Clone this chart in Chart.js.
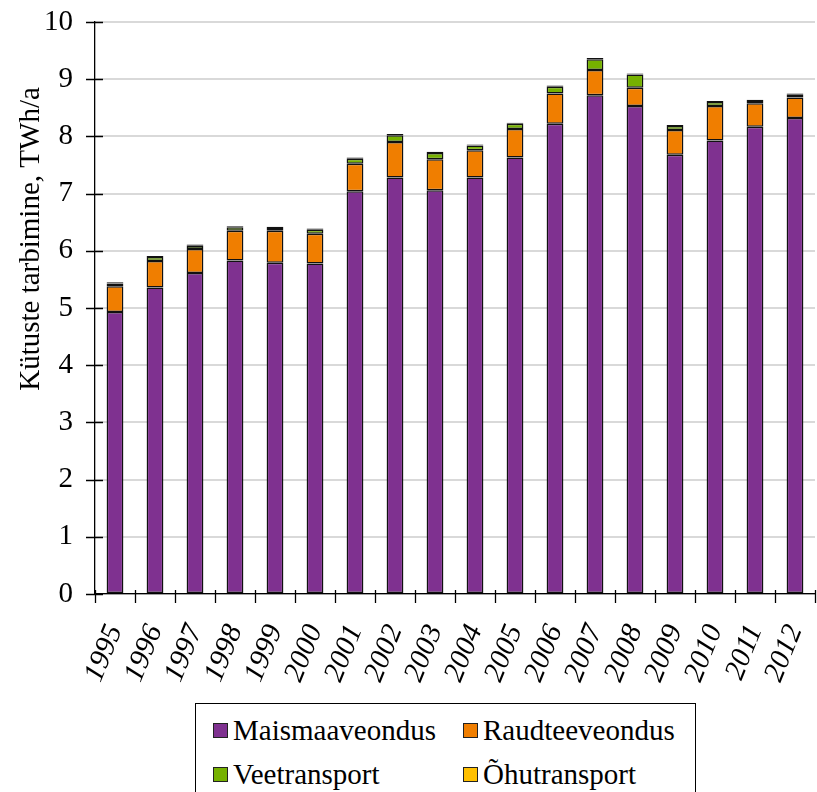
<!DOCTYPE html>
<html>
<head>
<meta charset="utf-8">
<script src="https://cdn.jsdelivr.net/npm/chart.js@4/dist/chart.umd.min.js"></script>
<style>
  html, body { margin: 0; padding: 0; background: #fff; }
  #wrap { position: relative; width: 817px; height: 792px; overflow: hidden; }
  #c { position: absolute; left: 0; top: 0; }
  #legend {
    position: absolute; left: 195px; top: 703px; width: 501px; height: 100px;
    border: 1px solid #000; box-sizing: border-box;
    font-family: "Liberation Serif", "Times New Roman", serif; font-size: 29px; color: #000;
  }
  .item { position: absolute; display: flex; align-items: center; white-space: nowrap; }
  .sw { width: 13px; height: 13px; border: 1px solid #222; margin-right: 5px; }
</style>
</head>
<body>
<div id="wrap">
  <canvas id="c" width="817" height="700"></canvas>
  <div id="legend"></div>
</div>
<script>
// Years on the category axis
const years = ['1995','1996','1997','1998','1999','2000','2001','2002','2003','2004',
               '2005','2006','2007','2008','2009','2010','2011','2012'];

// Fuel consumption by transport mode, TWh/a
const maismaaveondus = [4.93, 5.36, 5.61, 5.83, 5.79, 5.78, 7.04, 7.28, 7.06, 7.28,
                        7.63, 8.22, 8.72, 8.53, 7.68, 7.93, 8.17, 8.32];
const raudteeveondus = [0.45, 0.46, 0.42, 0.52, 0.56, 0.52, 0.48, 0.62, 0.54, 0.48,
                        0.50, 0.53, 0.44, 0.32, 0.43, 0.60, 0.41, 0.36];
const veetransport   = [0.05, 0.07, 0.06, 0.06, 0.05, 0.07, 0.09, 0.12, 0.11, 0.08,
                        0.09, 0.12, 0.19, 0.23, 0.07, 0.07, 0.04, 0.05];
const ohutransport   = [0.02, 0.02, 0.02, 0.02, 0.02, 0.02, 0.02, 0.02, 0.02, 0.02,
                        0.02, 0.02, 0.02, 0.02, 0.02, 0.02, 0.02, 0.02];

// Value axis ticks
const yTicks = [0, 1, 2, 3, 4, 5, 6, 7, 8, 9, 10];

const seriesNames = ['Maismaaveondus', 'Raudteeveondus', 'Veetransport', 'Õhutransport'];
const yTitle = 'Kütuste tarbimine, TWh/a';

const SERIF = '"Liberation Serif", "Times New Roman", serif';
const colors = ['#7F3190', '#F07E00', '#76B100', '#FFC000'];
const seriesData = [maismaaveondus, raudteeveondus, veetransport, ohutransport];

// Crossing tick marks on both axes plus the rotated value-axis title
const axisDecor = {
  id: 'axisDecor',
  afterDraw(chart) {
    const ctx = chart.ctx;
    const x = chart.scales.x, y = chart.scales.y;
    ctx.save();
    ctx.strokeStyle = '#000';
    ctx.lineWidth = 1.3;
    ctx.beginPath();
    yTicks.forEach(v => {
      const py = Math.round(y.getPixelForValue(v)) + 0.5;
      ctx.moveTo(x.left - 9, py);
      ctx.lineTo(x.left + 8, py);
    });
    const n = years.length;
    const step = (x.right - x.left) / n;
    for (let i = 0; i <= n; i++) {
      const px = Math.round(x.left + i * step) + 0.5;
      ctx.moveTo(px, y.bottom - 4);
      ctx.lineTo(px, y.bottom + 9);
    }
    ctx.stroke();

    ctx.fillStyle = '#000';
    ctx.font = '29px ' + SERIF;
    ctx.textAlign = 'center';
    ctx.textBaseline = 'alphabetic';
    ctx.translate(39, 239);
    ctx.rotate(-Math.PI / 2);
    ctx.fillText(yTitle, 0, 0);
    ctx.restore();
  }
};

const chart = new Chart(document.getElementById('c'), {
  type: 'bar',
  data: {
    labels: years,
    datasets: seriesNames.map((name, i) => ({
      label: name,
      data: seriesData[i],
      backgroundColor: colors[i],
      borderColor: '#111',
      borderWidth: 1.5,
      borderSkipped: false,
      barPercentage: 0.42,
      categoryPercentage: 1.0
    }))
  },
  options: {
    responsive: false,
    animation: false,
    layout: { padding: { top: 22, right: 2, left: 0, bottom: 0 } },
    plugins: { legend: { display: false }, tooltip: { enabled: false } },
    scales: {
      x: {
        stacked: true,
        grid: { display: false, drawTicks: false },
        border: { display: true, color: '#000', width: 1.3 },
        ticks: {
          color: '#000',
          font: { family: SERIF, size: 29, style: 'italic' },
          minRotation: 68, maxRotation: 68,
          padding: 26,
          autoSkip: false
        },
        afterFit(s) { s.height = 106; s.paddingLeft = 0; s.paddingRight = 0; }
      },
      y: {
        stacked: true,
        min: 0, max: 10,
        afterBuildTicks(s) { s.ticks = yTicks.map(v => ({ value: v })); },
        grid: { color: '#d9d9d9', lineWidth: 2, drawTicks: false },
        border: { display: true, color: '#000', width: 1.3 },
        ticks: {
          color: '#000',
          font: { family: SERIF, size: 29 },
          padding: 22
        },
        afterFit(s) { s.width = 95; s.paddingTop = 0; s.paddingBottom = 0; }
      }
    }
  },
  plugins: [axisDecor]
});

// Legend box in two columns built from the chart's datasets
const legend = document.getElementById('legend');
const pos = [[17, 26], [267, 26], [17, 70], [267, 70]];
chart.data.datasets.forEach((ds, i) => {
  const it = document.createElement('div');
  it.className = 'item';
  it.style.left = pos[i][0] + 'px';
  it.style.top = (pos[i][1] - 17) + 'px';
  it.style.height = '34px';
  const sw = document.createElement('span');
  sw.className = 'sw';
  sw.style.background = ds.backgroundColor;
  const tx = document.createElement('span');
  tx.textContent = ds.label;
  it.appendChild(sw);
  it.appendChild(tx);
  legend.appendChild(it);
});
</script>
</body>
</html>
